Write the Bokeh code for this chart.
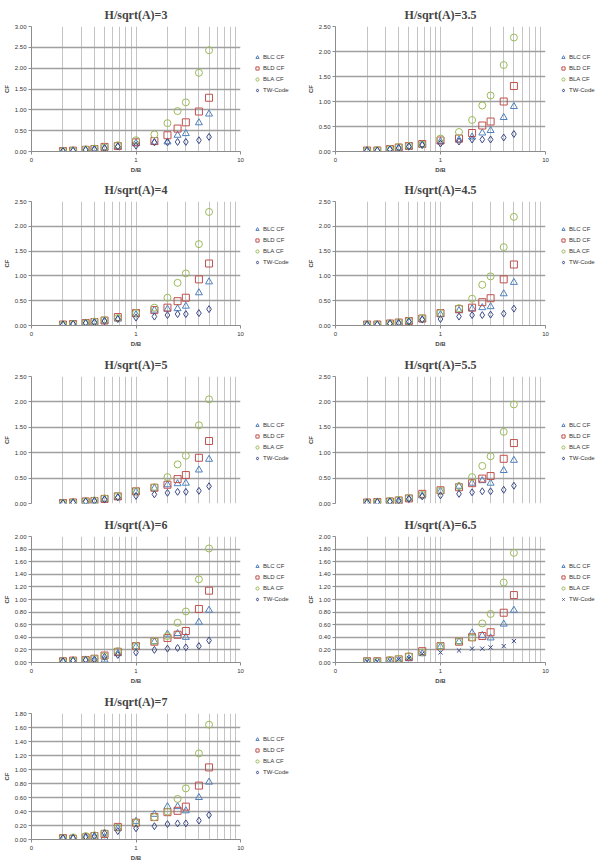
from bokeh.plotting import figure
from bokeh.layouts import column, row
from bokeh.models import Range1d, FixedTicker, Legend, LegendItem, PrintfTickFormatter
from bokeh.embed import file_html
from bokeh.resources import INLINE

# D/B values (shared x positions)
db = [0.2, 0.25, 0.33, 0.4, 0.5, 0.67, 1.0, 1.5, 2.0, 2.5, 3.0, 4.0, 5.0]

# H/sqrt(A)=3
blc_30 = [0.01, 0.02, 0.04, 0.06, 0.08, 0.12, 0.20, 0.22, 0.23, 0.39, 0.43, 0.69, 0.90]
bld_30 = [0.01, 0.02, 0.04, 0.06, 0.11, 0.13, 0.22, 0.25, 0.39, 0.55, 0.70, 0.96, 1.29]
bla_30 = [0.01, 0.02, 0.05, 0.07, 0.10, 0.15, 0.27, 0.41, 0.68, 0.97, 1.18, 1.89, 2.43]
tw_30 = [0.01, 0.02, 0.04, 0.05, 0.08, 0.12, 0.14, 0.22, 0.22, 0.23, 0.23, 0.27, 0.35]
# H/sqrt(A)=3.5
blc_35 = [0.02, 0.02, 0.05, 0.07, 0.10, 0.14, 0.20, 0.23, 0.29, 0.37, 0.42, 0.68, 0.90]
bld_35 = [0.02, 0.02, 0.05, 0.08, 0.11, 0.15, 0.22, 0.26, 0.37, 0.52, 0.60, 1.00, 1.31]
bla_35 = [0.02, 0.03, 0.05, 0.09, 0.11, 0.14, 0.26, 0.39, 0.63, 0.92, 1.12, 1.73, 2.28]
tw_35 = [0.02, 0.02, 0.04, 0.07, 0.10, 0.13, 0.16, 0.20, 0.24, 0.24, 0.24, 0.28, 0.35]
# H/sqrt(A)=4
blc_40 = [0.02, 0.03, 0.05, 0.07, 0.09, 0.13, 0.22, 0.31, 0.33, 0.34, 0.39, 0.66, 0.88]
bld_40 = [0.02, 0.03, 0.05, 0.07, 0.10, 0.17, 0.25, 0.31, 0.36, 0.49, 0.56, 0.93, 1.25]
bla_40 = [0.02, 0.03, 0.05, 0.08, 0.11, 0.15, 0.25, 0.36, 0.56, 0.86, 1.05, 1.64, 2.29]
tw_40 = [0.02, 0.03, 0.05, 0.06, 0.09, 0.13, 0.16, 0.18, 0.21, 0.23, 0.23, 0.25, 0.33]
# H/sqrt(A)=4.5
blc_45 = [0.02, 0.02, 0.04, 0.05, 0.08, 0.12, 0.22, 0.30, 0.34, 0.36, 0.38, 0.64, 0.87]
bld_45 = [0.02, 0.02, 0.04, 0.06, 0.09, 0.14, 0.25, 0.33, 0.36, 0.47, 0.55, 0.93, 1.23]
bla_45 = [0.02, 0.02, 0.04, 0.06, 0.09, 0.15, 0.25, 0.35, 0.54, 0.82, 0.99, 1.58, 2.19]
tw_45 = [0.02, 0.02, 0.04, 0.05, 0.08, 0.12, 0.13, 0.18, 0.21, 0.21, 0.22, 0.24, 0.34]
# H/sqrt(A)=5
blc_50 = [0.01, 0.02, 0.04, 0.05, 0.08, 0.12, 0.23, 0.30, 0.37, 0.39, 0.40, 0.66, 0.87]
bld_50 = [0.01, 0.02, 0.04, 0.05, 0.09, 0.14, 0.24, 0.31, 0.37, 0.48, 0.56, 0.90, 1.23]
bla_50 = [0.01, 0.02, 0.04, 0.06, 0.10, 0.15, 0.24, 0.32, 0.52, 0.77, 0.94, 1.54, 2.05]
tw_50 = [0.01, 0.02, 0.04, 0.05, 0.08, 0.12, 0.15, 0.18, 0.21, 0.23, 0.23, 0.25, 0.34]
# H/sqrt(A)=5.5
blc_55 = [0.02, 0.03, 0.04, 0.03, 0.09, 0.15, 0.24, 0.34, 0.40, 0.45, 0.40, 0.65, 0.85]
bld_55 = [0.02, 0.03, 0.04, 0.06, 0.10, 0.19, 0.26, 0.32, 0.40, 0.49, 0.54, 0.88, 1.19]
bla_55 = [0.02, 0.03, 0.05, 0.07, 0.11, 0.17, 0.25, 0.34, 0.52, 0.74, 0.93, 1.41, 1.95]
tw_55 = [0.02, 0.03, 0.04, 0.06, 0.09, 0.14, 0.16, 0.19, 0.22, 0.24, 0.24, 0.27, 0.35]
# H/sqrt(A)=6
blc_60 = [0.02, 0.03, 0.04, 0.02, 0.04, 0.14, 0.25, 0.33, 0.45, 0.46, 0.40, 0.64, 0.83]
bld_60 = [0.02, 0.03, 0.04, 0.06, 0.11, 0.17, 0.26, 0.33, 0.39, 0.44, 0.50, 0.85, 1.14]
bla_60 = [0.02, 0.03, 0.04, 0.06, 0.10, 0.18, 0.26, 0.34, 0.42, 0.63, 0.81, 1.32, 1.81]
tw_60 = [0.02, 0.03, 0.04, 0.05, 0.09, 0.12, 0.16, 0.20, 0.22, 0.23, 0.24, 0.26, 0.35]
# H/sqrt(A)=6.5
blc_65 = [0.02, 0.02, 0.03, 0.03, 0.06, 0.14, 0.25, 0.33, 0.47, 0.43, 0.39, 0.61, 0.83]
bld_65 = [0.02, 0.02, 0.03, 0.05, 0.09, 0.18, 0.26, 0.33, 0.40, 0.42, 0.48, 0.79, 1.07]
bla_65 = [0.02, 0.02, 0.04, 0.06, 0.10, 0.16, 0.26, 0.34, 0.40, 0.62, 0.77, 1.27, 1.74]
tw_65 = [0.02, 0.02, 0.03, 0.05, 0.07, 0.14, 0.16, 0.19, 0.22, 0.22, 0.24, 0.26, 0.34]
# H/sqrt(A)=7
blc_70 = [0.02, 0.02, 0.02, 0.03, 0.03, 0.16, 0.26, 0.36, 0.47, 0.47, 0.41, 0.60, 0.82]
bld_70 = [0.02, 0.01, 0.03, 0.05, 0.08, 0.18, 0.24, 0.32, 0.39, 0.41, 0.47, 0.77, 1.03]
bla_70 = [0.02, 0.03, 0.05, 0.06, 0.09, 0.17, 0.24, 0.32, 0.40, 0.58, 0.73, 1.23, 1.64]
tw_70 = [0.02, 0.02, 0.04, 0.05, 0.09, 0.12, 0.16, 0.19, 0.22, 0.23, 0.23, 0.27, 0.35]

titles = ["H/sqrt(A)=3", "H/sqrt(A)=3.5", "H/sqrt(A)=4", "H/sqrt(A)=4.5", "H/sqrt(A)=5",
          "H/sqrt(A)=5.5", "H/sqrt(A)=6", "H/sqrt(A)=6.5", "H/sqrt(A)=7"]
series_names = ["BLC CF", "BLD CF", "BLA CF", "TW-Code"]
x_ticks = [0.1, 1, 10]
x_tick_labels = {0.1: "0", 1: "1", 10: "10"}
x_minor = [0.2, 0.3, 0.4, 0.5, 0.6, 0.7, 0.8, 0.9, 2, 3, 4, 5, 6, 7, 8, 9]
ticks_05_30 = [0.0, 0.5, 1.0, 1.5, 2.0, 2.5, 3.0]
ticks_05_25 = [0.0, 0.5, 1.0, 1.5, 2.0, 2.5]
ticks_02_20 = [0.0, 0.2, 0.4, 0.6, 0.8, 1.0, 1.2, 1.4, 1.6, 1.8, 2.0]
ticks_02_18 = [0.0, 0.2, 0.4, 0.6, 0.8, 1.0, 1.2, 1.4, 1.6, 1.8]

C_BLC = "#4F81BD"
C_BLD = "#C0504D"
C_BLA = "#9BBB59"
C_TW = "#3B4A8A"
MARKERS = ["triangle", "square", "circle"]
COLORS = [C_BLC, C_BLD, C_BLA, C_TW]


def make_chart(title, blc, bld, bla, tw, yticks, width, height, left, right, top, bottom,
               show_x=True, tw_marker="diamond"):
    p = figure(width=width, height=height, x_axis_type="log",
               x_range=Range1d(0.1, 10), y_range=Range1d(0, yticks[-1]),
               output_backend="svg", toolbar_location=None,
               min_border_left=left, min_border_right=right,
               min_border_top=top, min_border_bottom=bottom,
               title=title)
    p.title.text_font = "Liberation Serif"
    p.title.text_font_style = "bold"
    p.title.text_font_size = "12px"
    p.title.align = "center"
    p.outline_line_color = None

    p.xaxis.ticker = FixedTicker(ticks=x_ticks, minor_ticks=x_minor)
    p.xaxis.major_label_overrides = x_tick_labels
    p.yaxis.ticker = FixedTicker(ticks=yticks)
    p.yaxis.formatter = PrintfTickFormatter(format="%.2f")

    for ax in (p.xaxis[0], p.yaxis[0]):
        ax.major_label_text_font_size = "6px"
        ax.major_label_text_font = "Liberation Sans"
        ax.major_label_text_color = "#333333"
        ax.axis_line_color = "#8c8c8c"
        ax.major_tick_line_color = "#8c8c8c"
        ax.major_tick_out = 3
        ax.major_tick_in = 0
        ax.minor_tick_line_color = None
        ax.axis_label_text_font_size = "6px"
        ax.axis_label_text_font = "Liberation Sans"
        ax.axis_label_text_font_style = "bold"
        ax.axis_label_standoff = 2
        ax.major_label_standoff = 2
    p.xaxis.axis_label = "D/B"
    p.yaxis.axis_label = "CF"
    if not show_x:
        p.xaxis.visible = False

    p.xgrid.grid_line_color = "#c4c4c4"
    p.xgrid.minor_grid_line_color = "#c4c4c4"
    p.ygrid.grid_line_color = "#a0a0a0"
    p.ygrid.grid_line_width = 1.3

    p.scatter(db, blc, marker="triangle", size=7, fill_color=None, line_color=C_BLC)
    p.scatter(db, bld, marker="square", size=7, fill_color=None, line_color=C_BLD)
    p.scatter(db, bla, marker="circle", size=7, fill_color=None, line_color=C_BLA)
    p.scatter(db, tw, marker=tw_marker, size=7 if tw_marker == "diamond" else 6,
              fill_color=None, line_color=C_TW)
    return p


def make_legend(width, height, legend_x, legend_y, series, tw_marker="diamond"):
    # legend-only panel: the series are plotted against a range where they are out of view,
    # so only the legend entries (with their glyphs) show.
    q = figure(width=width, height=height, x_range=Range1d(100, 101), y_range=Range1d(100, 101),
               output_backend="svg", toolbar_location=None, min_border=0)
    q.xaxis.visible = False
    q.yaxis.visible = False
    q.grid.visible = False
    q.outline_line_color = None
    rs = []
    for m, c, ys in zip(MARKERS + [tw_marker], COLORS, series):
        rs.append(q.scatter(db, ys, marker=m, size=7, fill_color=None, line_color=c))
    legend = Legend(items=[LegendItem(label=n, renderers=[r]) for n, r in zip(series_names, rs)],
                    location=(legend_x, legend_y))
    legend.label_text_font_size = "6px"
    legend.label_text_font = "Liberation Sans"
    legend.label_text_color = "#333333"
    legend.glyph_width = 8
    legend.glyph_height = 8
    legend.spacing = 3
    legend.label_standoff = 2
    legend.padding = 0
    legend.margin = 0
    legend.label_height = 8
    legend.border_line_color = None
    legend.background_fill_alpha = 0
    q.add_layout(legend)
    return q


# rows: (height, top, bottom)
rows_geom = [(175, 23, 23), (175, 20, 25), (160, 23, 7), (177, 23, 25), (181, 23, 29)]
# left column: main fig width, left border, right border, legend fig width, legend x
LW, LL, LR, LGW, LGX = 250, 30, 10, 50, 3
RW, RL, RR, RGW, RGX = 255, 35, 10, 45, 4

data = [
    (blc_30, bld_30, bla_30, tw_30, ticks_05_30),
    (blc_35, bld_35, bla_35, tw_35, ticks_05_25),
    (blc_40, bld_40, bla_40, tw_40, ticks_05_25),
    (blc_45, bld_45, bla_45, tw_45, ticks_05_25),
    (blc_50, bld_50, bla_50, tw_50, ticks_05_25),
    (blc_55, bld_55, bla_55, tw_55, ticks_05_25),
    (blc_60, bld_60, bla_60, tw_60, ticks_02_20),
    (blc_65, bld_65, bla_65, tw_65, ticks_02_20),
    (blc_70, bld_70, bla_70, tw_70, ticks_02_18),
]

cells = []
for i, (blc, bld, bla, tw, yt) in enumerate(data):
    r = i // 2
    h, t, b = rows_geom[r]
    is_left = (i % 2 == 0)
    twm = "x" if i == 7 else "diamond"
    main = make_chart(
        titles[i], blc, bld, bla, tw, yt,
        LW if is_left else RW, h,
        LL if is_left else RL, LR if is_left else RR, t, b,
        show_x=(r != 2), tw_marker=twm)
    leg = make_legend(LGW if is_left else RGW, h, LGX if is_left else RGX, b + 34,
                      [blc, bld, bla, tw], tw_marker=twm)
    cells.append(row(main, leg))

layout = column(
    row(cells[0], cells[1]),
    row(cells[2], cells[3]),
    row(cells[4], cells[5]),
    row(cells[6], cells[7]),
    cells[8],
)

open("out.html", "w").write(file_html(layout, INLINE))
